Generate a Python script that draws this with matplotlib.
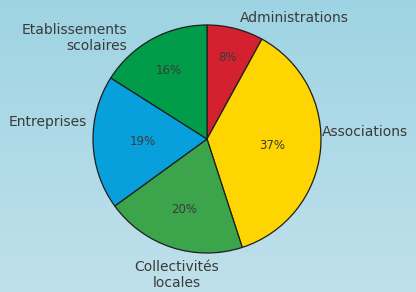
#!/usr/bin/env python3

# +
# import(s)
# -
import numpy as np
import matplotlib as mpl
import matplotlib.pyplot as plt

mpl.use('Agg')

# +
# data
# -
categories = ['Administrations', 'Associations', 'Collectivités\nlocales',
              'Entreprises', 'Etablissements\nscolaires']
shares = [8, 37, 20, 19, 16]
colors = ['#d4212f', '#fed501', '#3ca54b', '#08a0dc', '#019c49']

# label placement (pixels, origin top-left) and alignment
label_pos = [(294, 18), (322, 132), (177, 275), (48, 122), (127, 38)]
label_ha = ['center', 'left', 'center', 'center', 'right']
pct_dist = [0.74, 0.57, 0.65, 0.56, 0.69]

W, H = 416, 292
CX, CY, R = 207, 139, 114

# +
# figure
# -
fig = plt.figure(figsize=(W / 100, H / 100), dpi=100)
ax = fig.add_axes([0, 0, 1, 1])

# background gradient
grad = np.linspace(0, 1, 256).reshape(-1, 1)
top = np.array([0.62, 0.83, 0.89])
bot = np.array([0.75, 0.88, 0.92])
img = top + (bot - top) * grad[:, :, None]
ax.imshow(img, extent=(0, W, 0, H), origin='upper', aspect='auto', zorder=0)

wedges, _ = ax.pie(shares, colors=colors, startangle=90, counterclock=False,
                   center=(CX, H - CY), radius=R, frame=True,
                   wedgeprops={'edgecolor': '#1e1e1e', 'linewidth': 0.9})
ax.set_xlim(0, W)
ax.set_ylim(0, H)
ax.set_aspect('equal')
ax.axis('off')

font = 'DejaVu Sans'
txt_color = '#3a3a3a'

# percentage labels
for w, v, d in zip(wedges, shares, pct_dist):
    ang = np.radians((w.theta1 + w.theta2) / 2)
    ax.text(CX + d * R * np.cos(ang), H - CY + d * R * np.sin(ang), f'{v}%',
            ha='center', va='center', fontsize=8.5, family=font, color=txt_color)

# category labels
for lab, (x, y), ha in zip(categories, label_pos, label_ha):
    ax.text(x, H - y, lab, ha=ha, va='center', fontsize=10, family=font,
            color=txt_color, linespacing=1.15)

plt.savefig('out.png', dpi=100)
